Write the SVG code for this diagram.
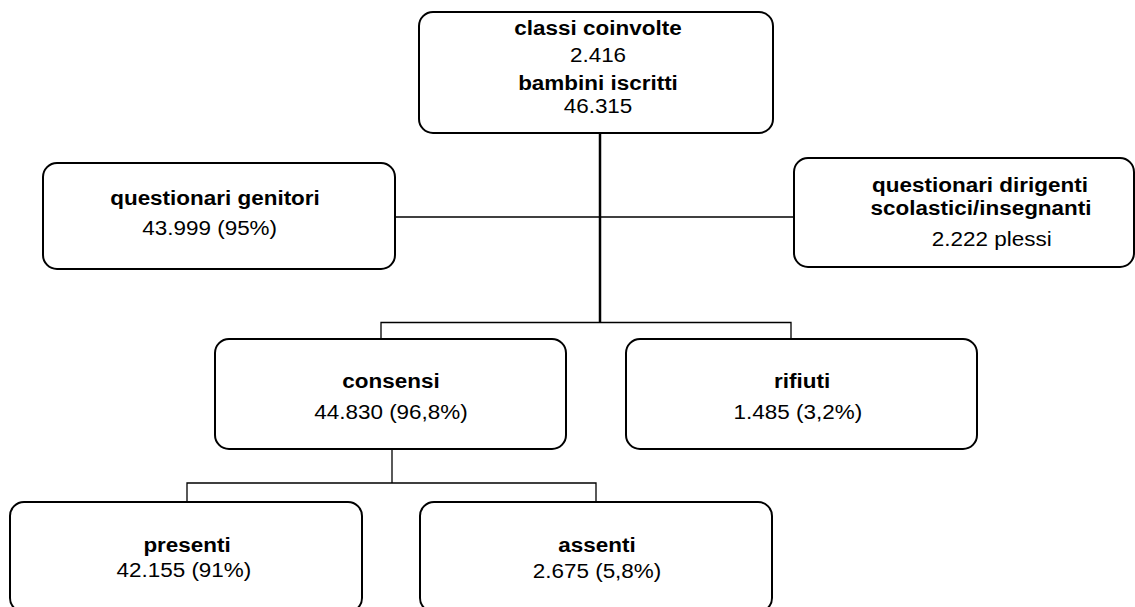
<svg xmlns="http://www.w3.org/2000/svg" width="1135" height="607" viewBox="0 0 1135 607">
<style>
.box{fill:#fff;stroke:#000;stroke-width:2}
.ln{fill:none;stroke:#000;stroke-width:1.3}
.trunk{fill:none;stroke:#000;stroke-width:2.5}
text{font-family:"Liberation Sans",Arial,sans-serif;font-size:21px;text-anchor:middle;fill:#000}
.b{font-weight:bold}
</style>
<rect width="1135" height="607" fill="#fff"/>
<g id="connectors">
<line class="trunk" x1="600" y1="133" x2="600" y2="323"/>
<line class="ln" x1="395" y1="217" x2="794" y2="217"/>
<polyline class="ln" points="381,339 381,322.5 791,322.5 791,339"/>
<line class="ln" x1="392" y1="449" x2="392" y2="483"/>
<polyline class="ln" points="187,502 187,483 596,483 596,502"/>
</g>
<g id="node-top">
<rect class="box" x="419" y="12" width="354" height="121" rx="14"/>
<g transform="translate(598,0) scale(1.07,1)">
<text class="b" x="0" y="35">classi coinvolte</text>
<text x="0" y="62">2.416</text>
<text class="b" x="0" y="90">bambini iscritti</text>
<text x="0" y="113">46.315</text>
</g>
</g>
<g id="node-genitori">
<rect class="box" x="43" y="163" width="352" height="106" rx="14"/>
<g transform="translate(215,0) scale(1.07,1)">
<text class="b" x="0" y="205">questionari genitori</text>
<text x="-5" y="235">43.999 (95%)</text>
</g>
</g>
<g id="node-dirigenti">
<rect class="box" x="794" y="158" width="340" height="109" rx="14"/>
<g transform="translate(980,0) scale(1.07,1)">
<text class="b" x="0" y="192">questionari dirigenti</text>
<text class="b" x="1" y="215">scolastici/insegnanti</text>
<text x="11" y="246">2.222 plessi</text>
</g>
</g>
<g id="node-consensi">
<rect class="box" x="215" y="339" width="351" height="110" rx="14"/>
<g transform="translate(391,0) scale(1.07,1)">
<text class="b" x="0" y="388">consensi</text>
<text x="0" y="419">44.830 (96,8%)</text>
</g>
</g>
<g id="node-rifiuti">
<rect class="box" x="626" y="339" width="351" height="110" rx="14"/>
<g transform="translate(800,0) scale(1.07,1)">
<text class="b" x="2" y="388">rifiuti</text>
<text x="-2" y="419">1.485 (3,2%)</text>
</g>
</g>
<g id="node-presenti">
<rect class="box" x="10" y="502" width="352" height="110" rx="14"/>
<g transform="translate(186,0) scale(1.07,1)">
<text class="b" x="1" y="552">presenti</text>
<text x="-2" y="577">42.155 (91%)</text>
</g>
</g>
<g id="node-assenti">
<rect class="box" x="420" y="502" width="352" height="110" rx="14"/>
<g transform="translate(597,0) scale(1.07,1)">
<text class="b" x="0" y="552">assenti</text>
<text x="0" y="578">2.675 (5,8%)</text>
</g>
</g>
</svg>
